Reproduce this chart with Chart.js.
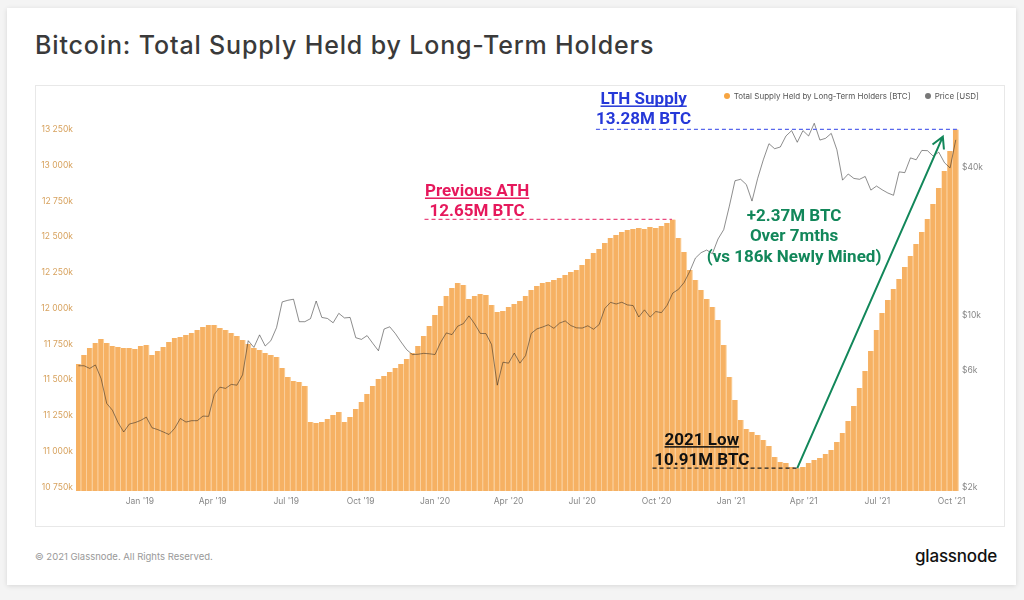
<!DOCTYPE html>
<html>
<head>
<meta charset="utf-8">
<script src="https://cdn.jsdelivr.net/npm/chart.js@4.4.0/dist/chart.umd.min.js"></script>
<style>
  body { margin: 0; width: 1024px; height: 600px; background: #f4f4f4; font-family: Inter, 'Noto Sans', sans-serif; overflow: hidden; }
  #card { position: absolute; left: 7px; top: 8px; width: 1009px; height: 577px; background: #fff; box-shadow: 0 1px 5px rgba(0,0,0,0.12); }
  #title { position: absolute; left: 35px; top: 30px; font-size: 25px; line-height: 30px; color: #3a3a3a; font-weight: 500; letter-spacing: 0.85px; }
  #frame { position: absolute; left: 35px; top: 85px; width: 970px; height: 442px; box-sizing: border-box; border: 1px solid #e8e8e8; background: #fff; }
  #chart { position: absolute; left: 35px; top: 85px; }
  #legend { position: absolute; right: 45px; top: 90px; font-size: 8px; line-height: 12px; color: #555; display: flex; align-items: center; }
  #legend .dot { display: inline-block; width: 6px; height: 6px; border-radius: 50%; margin-right: 4px; }
  #footer { position: absolute; left: 35px; top: 551px; font-size: 9.5px; color: #999; }
  #brand { position: absolute; right: 27px; top: 546px; font-size: 17px; font-weight: 500; color: #111; letter-spacing: -0.2px; }
</style>
</head>
<body>
<div id="card"></div>
<div id="title">Bitcoin: Total Supply Held by Long-Term Holders</div>
<div id="frame"></div>
<canvas id="chart" width="970" height="442"></canvas>
<div id="legend">
  <span class="dot" style="background:#f7a542"></span>Total Supply Held by Long-Term Holders [BTC]
  <span class="dot" style="background:#777; margin-left:14px"></span>Price [USD]
</div>
<div id="footer">© 2021 Glassnode. All Rights Reserved.</div>
<div id="brand">glassnode</div>

<script>
// Axis range and weekly sampling
const axisStart = '2018-10-14';
const axisEnd = '2021-10-10';
const firstWeek = '2018-10-17';

// Long-term holder supply, thousands of BTC, one value per week
const lthSupply = [
  11639, 11702, 11751, 11786, 11814, 11786, 11765, 11758, 11751, 11751, 11744, 11765,
  11772, 11702, 11730, 11758, 11793, 11821, 11828, 11842, 11856, 11877, 11898, 11912,
  11912, 11891, 11877, 11856, 11835, 11807, 11779, 11751, 11737, 11716, 11702, 11688,
  11611, 11548, 11520, 11513, 11485, 11233, 11226, 11233, 11254, 11282, 11303, 11233,
  11268, 11324, 11373, 11429, 11485, 11534, 11555, 11583, 11611, 11639, 11674, 11716,
  11765, 11835, 11905, 11982, 12045, 12115, 12171, 12206, 12192, 12094, 12115, 12129,
  12122, 12052, 12003, 12010, 12038, 12059, 12080, 12115, 12157, 12185, 12206, 12213,
  12227, 12241, 12262, 12283, 12297, 12332, 12374, 12416, 12444, 12486, 12521, 12542,
  12563, 12577, 12584, 12591, 12584, 12598, 12591, 12605, 12626, 12650, 12521, 12423,
  12297, 12227, 12157, 12094, 12038, 11947, 11772, 11548, 11387, 11247, 11184, 11163,
  11142, 11107, 11065, 10988, 10953, 10946, 10918, 10910, 10918, 10946, 10967, 10981,
  11009, 11037, 11093, 11156, 11240, 11345, 11471, 11590, 11730, 11877, 11996, 12087,
  12164, 12234, 12318, 12395, 12479, 12563, 12654, 12759, 12870, 12990, 13130, 13280
];

// BTC price in USD, same weeks
const btcPrice = [
  6480, 6480, 6320, 6530, 5750, 4550, 4270, 3800, 3480, 3750, 3800, 3880,
  4000, 3620, 3560, 3480, 3400, 3600, 3950, 3820, 3870, 3870, 4040, 4030,
  4950, 5300, 5240, 5440, 5400, 5950, 8200, 7700, 8660, 7800, 8200, 9270,
  11800, 11980, 12100, 9800, 9800, 10080, 11900, 10200, 10100, 9700, 10600, 10150,
  10200, 8430, 8300, 8600, 8000, 7460, 9150, 9340, 8760, 8100, 7530, 7200,
  7220, 7280, 7250, 7200, 8080, 8820, 8680, 9390, 9620, 10350, 9600, 8780,
  8760, 7900, 5400, 6700, 6640, 7300, 6640, 7130, 8780, 9160, 9320, 9520,
  9210, 9670, 9870, 9450, 9250, 9230, 9430, 9130, 9540, 11100, 11750, 11570,
  11760, 11470, 11400, 10240, 10950, 10230, 10780, 10670, 11430, 12820, 13270, 14150,
  15700, 17800, 18730, 19200, 18550, 21300, 23240, 28990, 36800, 37300, 35500, 30400,
  37600, 44800, 52100, 49700, 50500, 56000, 58900, 52800, 58900, 56000, 63100, 53900,
  54800, 57400, 49200, 37000, 39200, 37600, 37300, 38300, 33700, 35000, 33800, 32800,
  32100, 40000, 39700, 45600, 44800, 48900, 48800, 46400, 48100, 43600, 41500, 54000
];

// Tick labels
const xTickDates = ['2019-01-01', '2019-04-01', '2019-07-01', '2019-10-01', '2020-01-01', '2020-04-01',
  '2020-07-01', '2020-10-01', '2021-01-01', '2021-04-01', '2021-07-01', '2021-10-01'];
const xTickLabels = ["Jan '19", "Apr '19", "Jul '19", "Oct '19", "Jan '20", "Apr '20",
  "Jul '20", "Oct '20", "Jan '21", "Apr '21", "Jul '21", "Oct '21"];
const supplyTicks = [10750, 11000, 11250, 11500, 11750, 12000, 12250, 12500, 12750, 13000, 13250];
const priceTicks = [2000, 6000, 10000, 40000];

// Annotations (anchored to data)
const levelNotes = [
  { head: 'LTH Supply', sub: '13.28M BTC', level: 13280, from: '2020-07-18', to: '2021-10-08', textAt: '2020-09-15', gap: 5, color: '#2538d8', dash: '#5967ec' },
  { head: 'Previous ATH', sub: '12.65M BTC', level: 12650, from: '2019-12-19', to: '2020-10-20', textAt: '2020-02-22', gap: 3, color: '#e6185c', dash: '#ea4a80' },
  { head: '2021 Low', sub: '10.91M BTC', level: 10910, from: '2020-09-26', to: '2021-03-24', textAt: '2020-11-26', gap: 3, color: '#111111', dash: '#222222' }
];
const growthLines = ['+2.37M BTC', 'Over 7mths', '(vs 186k Newly Mined)'];
const growthText = { at: '2021-03-20', level: 12640 };
const growthArrow = { from: ['2021-03-24', 10910], to: ['2021-09-20', 13230] };

function dayOf(s) {
  const [a, b, c] = s.split('-').map(Number);
  const [d, e, f] = axisStart.split('-').map(Number);
  return (Date.UTC(a, b - 1, c) - Date.UTC(d, e - 1, f)) / 86400000;
}

const firstDay = dayOf(firstWeek);
const weekDays = lthSupply.map((_, i) => firstDay + 7 * i);

const notesPlugin = {
  id: 'notes',
  afterDatasetsDraw(chart) {
    const { ctx, scales: { x, y } } = chart;
    ctx.save();
    ctx.font = 'bold 17px Roboto';
    ctx.textAlign = 'center';
    ctx.textBaseline = 'alphabetic';

    levelNotes.forEach(n => {
      const py = y.getPixelForValue(n.level);
      const px = x.getPixelForValue(dayOf(n.textAt));
      // dashed level line
      ctx.setLineDash([4, 3]);
      ctx.strokeStyle = n.dash;
      ctx.lineWidth = 1.2;
      ctx.beginPath();
      ctx.moveTo(x.getPixelForValue(dayOf(n.from)), py);
      ctx.lineTo(x.getPixelForValue(dayOf(n.to)), py);
      ctx.stroke();
      ctx.setLineDash([]);
      // labels
      ctx.fillStyle = n.color;
      const subBase = py - n.gap;
      const headBase = subBase - 20.5;
      ctx.fillText(n.sub, px, subBase);
      ctx.fillText(n.head, px, headBase);
      const w = ctx.measureText(n.head).width;
      ctx.fillRect(px - w / 2, headBase + 1.5, w, 1.5);
    });

    // growth arrow
    const x0 = x.getPixelForValue(dayOf(growthArrow.from[0]));
    const y0 = y.getPixelForValue(growthArrow.from[1]);
    const x1 = x.getPixelForValue(dayOf(growthArrow.to[0]));
    const y1 = y.getPixelForValue(growthArrow.to[1]);
    ctx.strokeStyle = '#12875a';
    ctx.lineWidth = 2;
    ctx.beginPath();
    ctx.moveTo(x0, y0);
    ctx.lineTo(x1, y1);
    const ang = Math.atan2(y1 - y0, x1 - x0);
    const len = 13;
    ctx.moveTo(x1 - len * Math.cos(ang - 0.5), y1 - len * Math.sin(ang - 0.5));
    ctx.lineTo(x1, y1);
    ctx.lineTo(x1 - len * Math.cos(ang + 0.5), y1 - len * Math.sin(ang + 0.5));
    ctx.stroke();

    // growth text
    ctx.fillStyle = '#12875a';
    const gx = x.getPixelForValue(dayOf(growthText.at));
    const gy = y.getPixelForValue(growthText.level);
    growthLines.forEach((t, i) => ctx.fillText(t, gx, gy + i * 20.5));
    ctx.restore();
  }
};

function fmtSupply(v) {
  const s = String(v);
  return s.slice(0, s.length - 3) + ' ' + s.slice(-3) + 'k';
}

Chart.defaults.font.family = 'Inter, "Noto Sans", sans-serif';

new Chart(document.getElementById('chart'), {
  data: {
    datasets: [
      {
        type: 'line',
        label: 'Price [USD]',
        data: weekDays.map((d, i) => ({ x: d, y: btcPrice[i] })),
        yAxisID: 'price',
        borderColor: 'rgba(30, 30, 30, 0.5)',
        borderWidth: 1,
        pointRadius: 0,
        tension: 0,
        order: 0
      },
      {
        type: 'bar',
        label: 'Total Supply Held by Long-Term Holders [BTC]',
        data: weekDays.map((d, i) => ({ x: d, y: lthSupply[i] })),
        yAxisID: 'y',
        backgroundColor: '#f6b163',
        borderColor: '#fbd3a2',
        borderWidth: { top: 0, left: 0, bottom: 0, right: 1.2 },
        borderSkipped: false,
        barPercentage: 1.0,
        categoryPercentage: 1.0,
        order: 1
      }
    ]
  },
  options: {
    responsive: false,
    animation: false,
    events: [],
    layout: { padding: { top: 13, left: 0, right: 0, bottom: 0 } },
    plugins: { legend: { display: false }, tooltip: { enabled: false } },
    scales: {
      x: {
        type: 'linear',
        offset: false,
        min: dayOf(axisStart),
        max: dayOf(axisEnd),
        grid: { display: false, drawTicks: false, offset: false },
        border: { display: false },
        afterBuildTicks: s => { s.ticks = xTickDates.map(d => ({ value: dayOf(d) })); },
        afterFit: s => { s.height = 36; },
        ticks: {
          autoSkip: false,
          maxRotation: 0,
          padding: 5,
          color: '#888',
          font: { size: 8.5 },
          callback: (v, i) => xTickLabels[i]
        }
      },
      y: {
        type: 'linear',
        position: 'left',
        min: 10750,
        max: 13500,
        grid: { display: false, drawTicks: false },
        border: { display: false },
        afterBuildTicks: s => { s.ticks = supplyTicks.map(v => ({ value: v })); },
        afterFit: s => { s.width = 41; },
        ticks: {
          padding: 3,
          labelOffset: -4,
          color: '#d7a25e',
          font: { size: 8.5 },
          callback: v => fmtSupply(v)
        }
      },
      price: {
        type: 'logarithmic',
        position: 'right',
        min: 2000,
        max: 80000,
        grid: { display: false, drawTicks: false },
        border: { display: false },
        afterBuildTicks: s => { s.ticks = priceTicks.map(v => ({ value: v })); },
        afterFit: s => { s.width = 46; },
        ticks: {
          padding: 3,
          labelOffset: -4,
          color: '#888',
          font: { size: 8.5 },
          callback: v => '$' + (v / 1000) + 'k'
        }
      }
    }
  },
  plugins: [notesPlugin]
});
</script>
</body>
</html>
